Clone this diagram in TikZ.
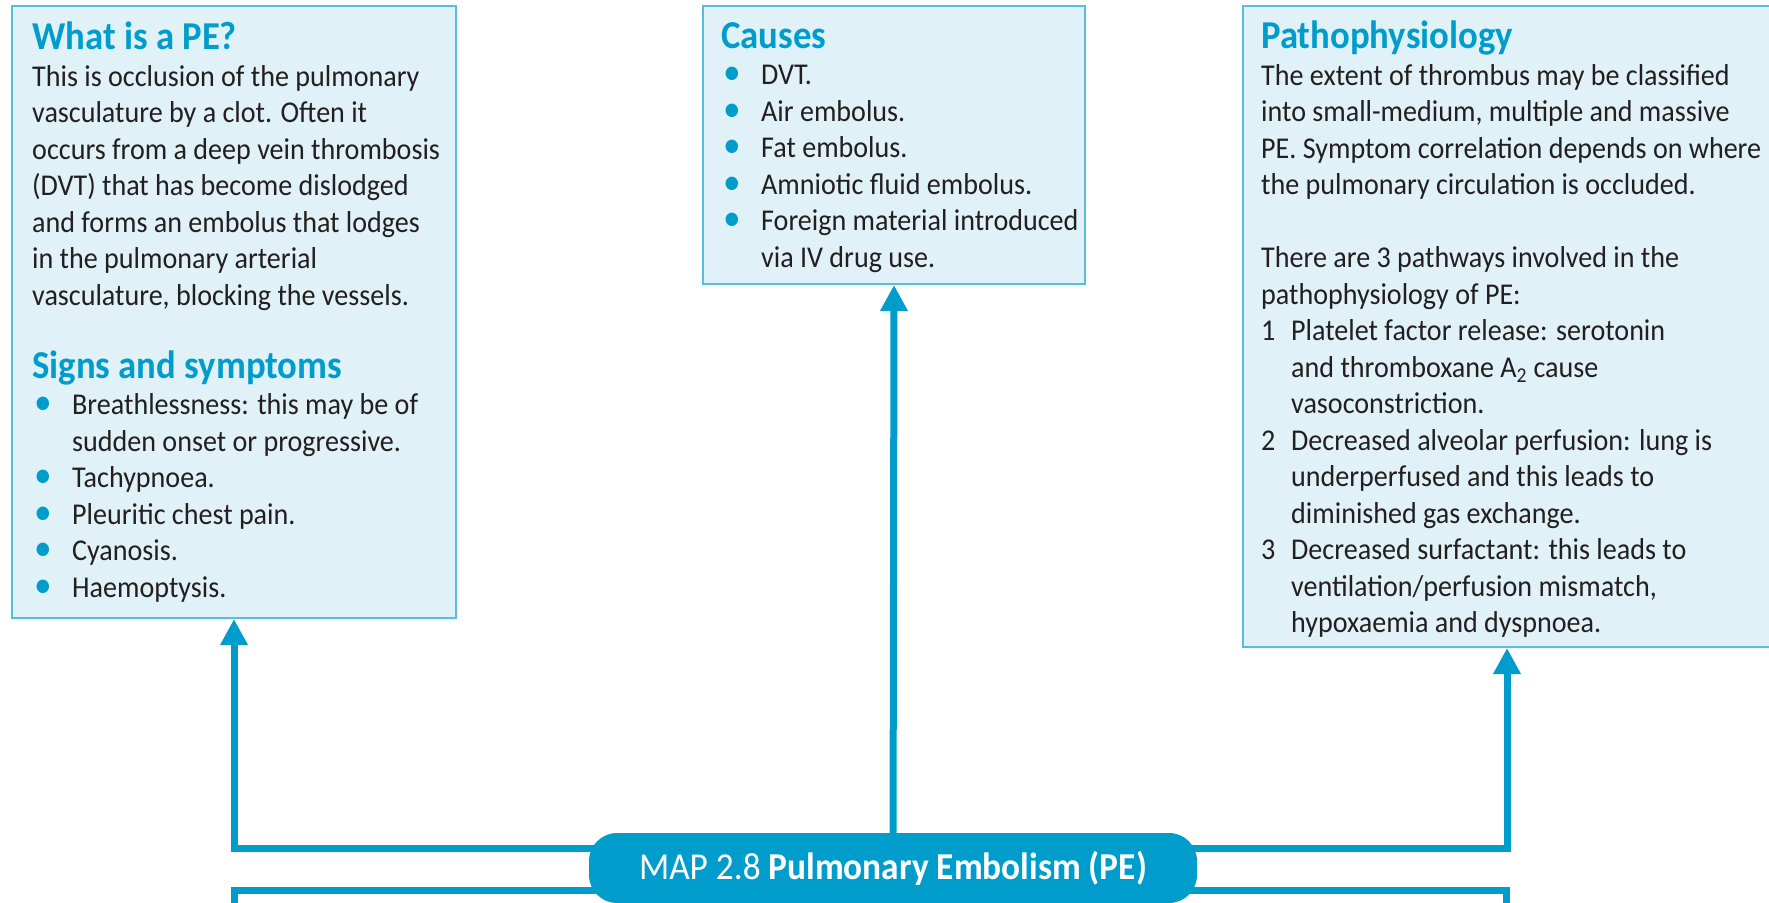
\documentclass[tikz,border=0pt]{standalone}
\usepackage{fontspec}
\setmainfont{Carlito}[FakeStretch=0.93]
\usetikzlibrary{arrows.meta,backgrounds}

\definecolor{mapblue}{RGB}{0,157,204}
\definecolor{boxfill}{RGB}{224,241,248}
\definecolor{boxline}{RGB}{85,190,225}
\definecolor{bodytext}{RGB}{35,31,32}

% list helpers
\newcommand{\itemdot}{\makebox[40pt][l]{\hspace*{2pt}\textcolor{mapblue}{\fontsize{38}{36}\selectfont •}}}
\newcommand{\itemgap}{\hspace*{40pt}}
\newcommand{\itemnum}[1]{\makebox[30pt][l]{#1}}
\newcommand{\numgap}{\hspace*{30pt}}
\newcommand{\boxhead}[1]{{\fontsize{39.5}{36.5}\selectfont\bfseries\color{mapblue}#1}}

\begin{document}
\begin{tikzpicture}[x=1pt, y=-1pt,
    mapbox/.style={draw=boxline, line width=2pt, fill=boxfill, anchor=north west, inner sep=0pt},
    boxtext/.style={anchor=north west, align=left, inner sep=0pt, text=bodytext,
        font=\fontsize{30.2}{36.5}\selectfont},
    link/.style={draw=mapblue, line width=7pt},
    uparrow/.style={link, -{Triangle[width=26pt,length=26pt]}},
    mapname/.style={fill=mapblue, text=white, rounded corners=28pt,
        minimum width=608pt, minimum height=70pt, font=\fontsize{38}{36}\selectfont}]

\clip (0,0) rectangle (1769,902);

% --- Boxes ---
\node[mapbox, minimum width=444pt, minimum height=612pt] (what) at (11,5) {};
\node[mapbox, minimum width=382pt, minimum height=278pt] (causes) at (702,5) {};
\node[mapbox, minimum width=528pt, minimum height=641pt] (patho) at (1242,5) {};

% --- Box texts ---
\node[boxtext] (whattxt) at (32,22) {%
\boxhead{What is a PE?}\\
This is occlusion of the pulmonary\\
vasculature by a clot. Often it\\
occurs from a deep vein thrombosis\\
(DVT) that has become dislodged\\
and forms an embolus that lodges\\
in the pulmonary arterial\\
vasculature, blocking the vessels.\\[36.5pt]
\boxhead{Signs and symptoms}\\
\itemdot Breathlessness: this may be of\\
\itemgap sudden onset or progressive.\\
\itemdot Tachypnoea.\\
\itemdot Pleuritic chest pain.\\
\itemdot Cyanosis.\\
\itemdot Haemoptysis.};

\node[boxtext] (causestxt) at (721,22) {%
\boxhead{Causes}\\
\itemdot DVT.\\
\itemdot Air embolus.\\
\itemdot Fat embolus.\\
\itemdot Amniotic fluid embolus.\\
\itemdot Foreign material introduced\\
\itemgap via IV drug use.};

\node[boxtext] (pathotxt) at (1261,21) {%
\boxhead{Pathophysiology}\\
The extent of thrombus may be classified\\
into small-medium, multiple and massive\\
PE. Symptom correlation depends on where\\
the pulmonary circulation is occluded.\\[36.5pt]
There are 3 pathways involved in the\\
pathophysiology of PE:\\
\itemnum{1}Platelet factor release: serotonin\\
\numgap and thromboxane A\textsubscript{2} cause\\
\numgap vasoconstriction.\\
\itemnum{2}Decreased alveolar perfusion: lung is\\
\numgap underperfused and this leads to\\
\numgap diminished gas exchange.\\
\itemnum{3}Decreased surfactant: this leads to\\
\numgap ventilation/perfusion mismatch,\\
\numgap hypoxaemia and dyspnoea.};

% --- Map title ---
\node[mapname] (title) at (893,868) {MAP 2.8 \textbf{Pulmonary Embolism (PE)}};

% free ends below the page
\coordinate (nextL) at (234,940);
\coordinate (nextR) at (1506,940);

% --- Connectors ---
\begin{scope}[on background layer]
\draw[uparrow] ([yshift=20pt]title.center) -| (what.south);
\draw[uparrow] (title.center) -- (causes.south);
\draw[uparrow] ([yshift=20pt]title.center) -| (patho.south);
\draw[link] ([yshift=-22pt]title.center) -| (nextL);
\draw[link] ([yshift=-22pt]title.center) -| (nextR);
\end{scope}

\end{tikzpicture}
\end{document}
